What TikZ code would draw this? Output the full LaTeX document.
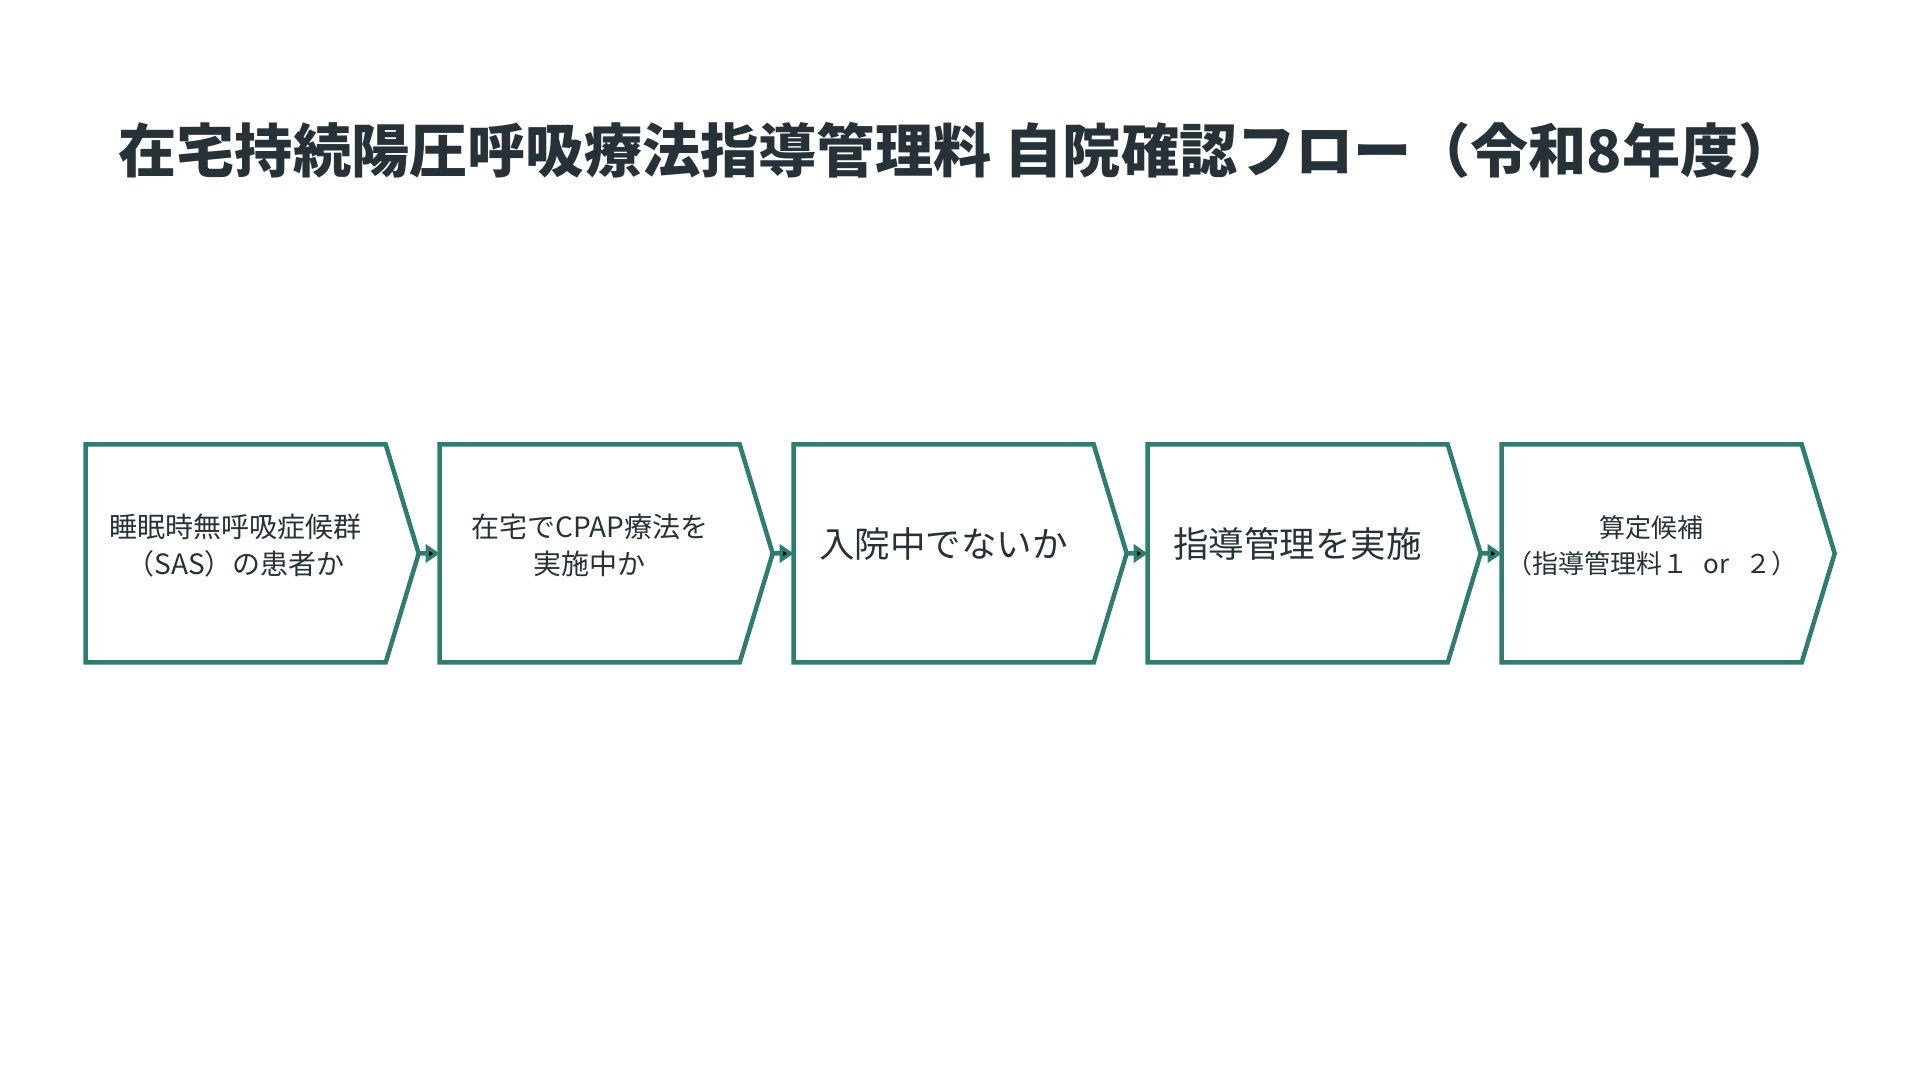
\documentclass[tikz,border=0pt]{standalone}
\usepackage{fontspec}
\setmainfont{Noto Sans CJK JP}
\usetikzlibrary{shapes.symbols, positioning, arrows.meta}
\definecolor{flowgreen}{RGB}{46,125,110}
\definecolor{inkgray}{RGB}{38,50,56}
\newcommand\titlefont{\bfseries\fontsize{58.2}{70}\selectfont}
\newcommand\midfont{\fontsize{28}{37}\selectfont}
\newcommand\bigfont{\fontsize{35.5}{44}\selectfont}
\newcommand\smallfont{\fontsize{26}{35.5}\selectfont}
\tikzset{
->, % directed connectors
>={Triangle[length=14pt,width=18pt]}, % filled heads
node distance=21pt, % gap between a tip and the next box
flowstep/.style={signal, signal to=east, signal from=nowhere, signal pointer angle=146.3,
  draw=flowgreen, line width=4.5pt, minimum width=333pt, minimum height=218pt,
  inner sep=0pt, outer sep=0pt, text=inkgray, align=center}, % chevron boxes
}
\begin{document}
\begin{tikzpicture}[x=1pt, y=1pt]
                \useasboundingbox (0,0) rectangle (1920,1080);
                \node[text=inkgray, font=\titlefont] (title) at (957.6,930) {在宅持続陽圧呼吸療法指導管理料 自院確認フロー（令和8年度）};
                \node[flowstep, anchor=west, font=\midfont, text depth=18pt] (sas) at (85.7,526.5) {睡眠時無呼吸症候群\\（SAS）の患者か};
                \node[flowstep, right=of sas, font=\midfont, text depth=18pt] (cpap) {在宅でCPAP療法を\\実施中か};
                \node[flowstep, right=of cpap, font=\bigfont, text depth=21pt] (inpat) {入院中でないか};
                \node[flowstep, right=of inpat, font=\bigfont, text depth=21pt] (guide) {指導管理を実施};
                \node[flowstep, right=of guide, font=\smallfont, text depth=17.6pt] (calc) {算定候補\\（指導管理料１\hspace{.6em}or\hspace{.6em}２）};
                \draw[draw=flowgreen, line width=4.5pt]
                    (sas) edge (cpap)
                    (cpap) edge (inpat)
                    (inpat) edge (guide)
                    (guide) edge (calc)
                    ;
\end{tikzpicture}
\end{document}
